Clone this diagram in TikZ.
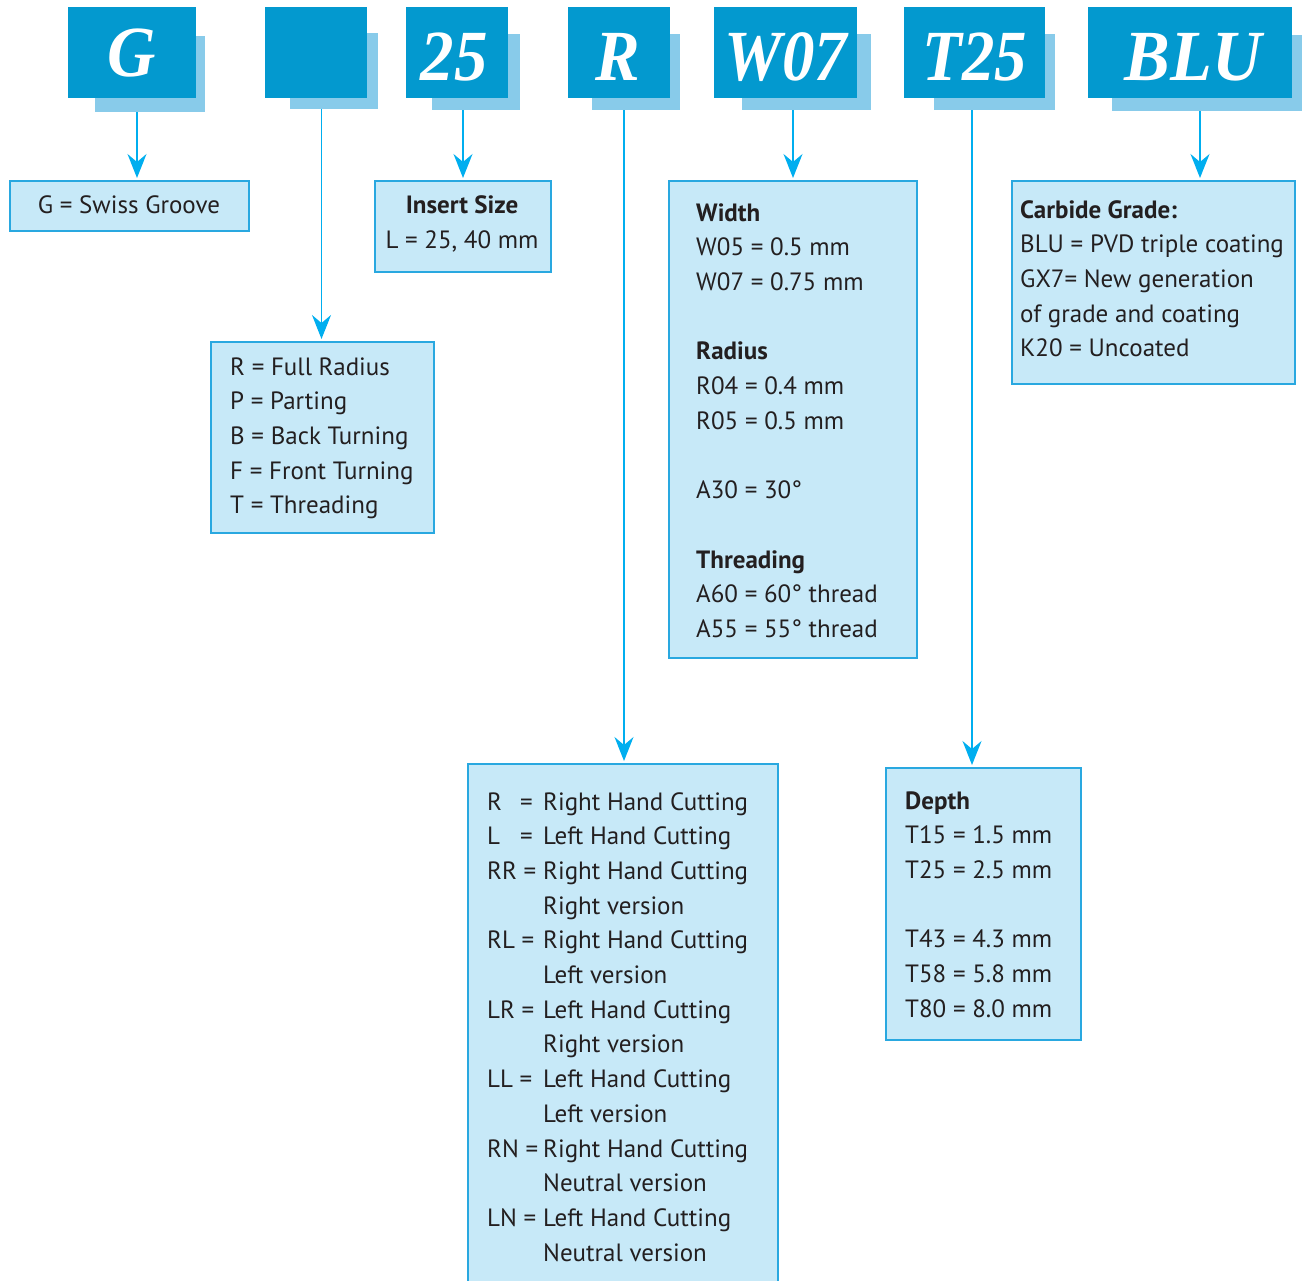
\documentclass[tikz,border=0pt]{standalone}
\usepackage{fontspec}
\setmainfont{PT Sans}
\newfontfamily\hdrfont{Liberation Serif}
\usetikzlibrary{arrows.meta}
\definecolor{hdark}{HTML}{0399CF}
\definecolor{hshadow}{HTML}{88CBEA}
\definecolor{bfill}{HTML}{C7E9F8}
\definecolor{bline}{HTML}{29A8E0}
\definecolor{arrc}{HTML}{00AEEF}
\definecolor{txtc}{HTML}{231F20}
\newcommand\codecol[1]{\makebox[56pt][l]{#1}}
\newcommand\onecode[1]{\makebox[33pt][l]{#1}=}
\begin{document}
\begin{tikzpicture}[x=1pt,y=-1pt,
 dark/.style={fill=hdark, draw=none, inner sep=0pt, anchor=north west},
 shad/.style={fill=hshadow, draw=none, inner sep=0pt, anchor=north west},
 hlet/.style={text=white, font=\fontsize{72}{72}\hdrfont\bfseries\itshape, inner sep=0pt, anchor=base},
 infobox/.style={fill=bfill, draw=bline, line width=1.5pt, inner sep=0pt, anchor=north west},
 txt/.style={text=txtc, font=\fontsize{25}{34.7}\selectfont, inner sep=0pt, anchor=base west},
 ctxt/.style={txt, anchor=base},
 conn/.style={draw=arrc, line width=1.4pt, shorten >=2pt, -{Stealth[length=24pt,width=19pt,inset=8pt]}}
]
\useasboundingbox (0,0) rectangle (1303,1280);
% ---- header blocks ----
\node[shad, minimum width=110pt, minimum height=76pt] (sG) at (95,36) {};
\node[dark, minimum width=128pt, minimum height=91pt] (dG) at (68,7) {};
\node[hlet] (lG) at (132,76) {\scalebox{0.93}[1]{G}};

\node[shad, minimum width=88pt, minimum height=76pt] (sBl) at (290,33) {};
\node[dark, minimum width=102pt, minimum height=91pt] (dBl) at (265,7) {};

\node[shad, minimum width=88pt, minimum height=76pt] (s25) at (432,34) {};
\node[dark, minimum width=102pt, minimum height=91pt] (d25) at (406,7) {};
\node[hlet] (l25) at (454,80) {\scalebox{0.93}[1]{25}};

\node[shad, minimum width=88pt, minimum height=76pt] (sR) at (592,34) {};
\node[dark, minimum width=102pt, minimum height=91pt] (dR) at (568,7) {};
\node[hlet] (lR) at (618,80) {\scalebox{0.93}[1]{R}};

\node[shad, minimum width=129pt, minimum height=76pt] (sW) at (742,34) {};
\node[dark, minimum width=143pt, minimum height=91pt] (dW) at (714,7) {};
\node[hlet] (lW) at (786,80) {\scalebox{0.9}[1]{W07}};

\node[shad, minimum width=121pt, minimum height=76pt] (sT) at (934,34) {};
\node[dark, minimum width=141pt, minimum height=91pt] (dT) at (904,7) {};
\node[hlet] (lT) at (975,80) {\scalebox{0.9}[1]{T25}};

\node[shad, minimum width=190pt, minimum height=76pt] (sB) at (1112,35) {};
\node[dark, minimum width=204pt, minimum height=91pt] (dB) at (1088,7) {};
\node[hlet] (lB) at (1193,80) {\scalebox{0.95}[1]{BLU}};

% ---- info boxes ----
\node[infobox, minimum width=239pt, minimum height=50pt] (bG) at (9,180) {};
\node[infobox, minimum width=176pt, minimum height=91pt] (bIns) at (374,180) {};
\node[infobox, minimum width=223pt, minimum height=191pt] (bBl) at (210,341) {};
\node[infobox, minimum width=248pt, minimum height=477pt] (bW) at (668,180) {};
\node[infobox, minimum width=283pt, minimum height=203pt] (bC) at (1011,180) {};
\node[infobox, minimum width=310pt, minimum height=530pt] (bR) at (467,763) {};
\node[infobox, minimum width=195pt, minimum height=272pt] (bD) at (885,767) {};

% ---- connectors ----
\draw[conn] (sG.south -| 137,0) -- (bG.north -| 137,0);
\draw[conn] (sBl.south -| 321.5,0) -- (bBl.north -| 321.5,0);
\draw[conn] (s25.south -| 463,0) -- (bIns.north -| 463,0);
\draw[conn] (sR.south -| 624,0) -- (bR.north -| 624,0);
\draw[conn] (sW.south -| 793,0) -- (bW.north -| 793,0);
\draw[conn] (sT.south -| 972,0) -- (bD.north -| 972,0);
\draw[conn] (sB.south -| 1200,0) -- (bC.north -| 1200,0);

% ---- texts ----
\node[ctxt] (tG) at (129,213) {G = Swiss Groove};
\node[ctxt] (tIns0) at (462,213) {\bfseries Insert Size};
\node[ctxt] (tIns1) at (462,248) {L = 25, 40 mm};

\foreach \n/\t in {0/{R = Full Radius},1/{P = Parting},2/{B = Back Turning},3/{F = Front Turning},4/{T = Threading}}
  \node[txt] (tBl-\n) at (230,375+34.7*\n) {\t};

\foreach \n/\t in {0/{\bfseries Width},1/{W05 = 0.5 mm},2/{W07 = 0.75 mm},4/{\bfseries Radius},5/{R04 = 0.4 mm},6/{R05 = 0.5 mm},8/{A30 = 30°},10/{\bfseries Threading},11/{A60 = 60° thread},12/{A55 = 55° thread}}
  \node[txt] (tW-\n) at (696,221+34.7*\n) {\t};

\foreach \n/\t in {0/{\bfseries Carbide Grade:},1/{BLU = PVD triple coating},2/{GX7= New generation},3/{of grade and coating},4/{K20 = Uncoated}}
  \node[txt] (tC-\n) at (1020,218+34.7*\n) {\t};

\foreach \n/\t in {0/{\bfseries Depth},1/{T15 = 1.5 mm},2/{T25 = 2.5 mm},4/{T43 = 4.3 mm},5/{T58 = 5.8 mm},6/{T80 = 8.0 mm}}
  \node[txt] (tD-\n) at (905,809+34.7*\n) {\t};

\foreach \n/\t in {0/{\codecol{\onecode{R}}Right Hand Cutting},1/{\codecol{\onecode{L}}Left Hand Cutting},
  2/{\codecol{RR =}Right Hand Cutting},3/{\codecol{}Right version},
  4/{\codecol{RL =}Right Hand Cutting},5/{\codecol{}Left version},
  6/{\codecol{LR =}Left Hand Cutting},7/{\codecol{}Right version},
  8/{\codecol{LL =}Left Hand Cutting},9/{\codecol{}Left version},
  10/{\codecol{RN =}Right Hand Cutting},11/{\codecol{}Neutral version},
  12/{\codecol{LN =}Left Hand Cutting},13/{\codecol{}Neutral version}}
  \node[txt] (tR-\n) at (487,810+34.7*\n) {\t};
\end{tikzpicture}
\end{document}
